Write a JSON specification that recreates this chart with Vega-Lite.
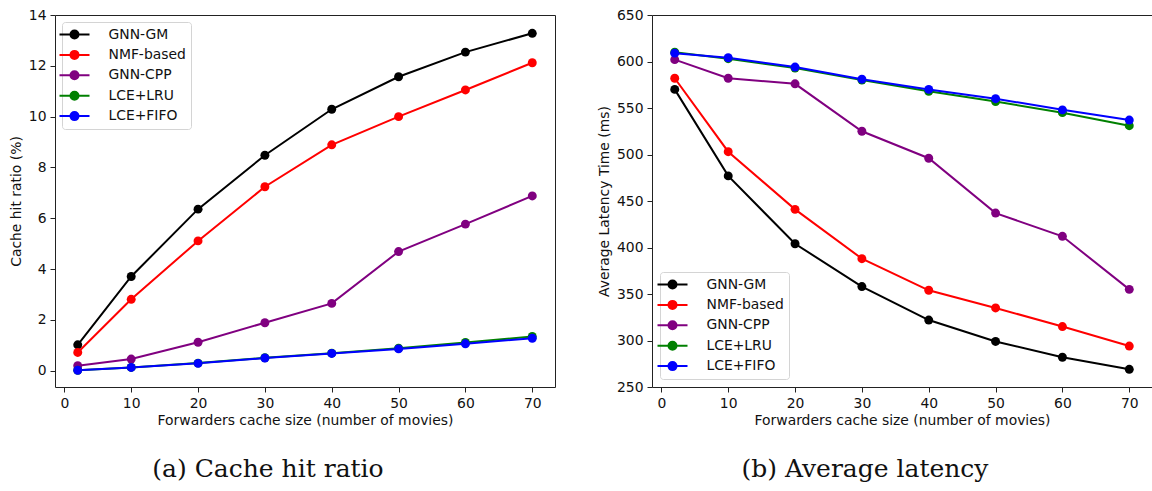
{
  "$schema": "https://vega.github.io/schema/vega-lite/v6.json",
  "background": "white",
  "padding": {"left": 8, "top": 7, "right": 0, "bottom": 0},
  "autosize": {"type": "pad"},
  "spacing": 97,
  "bounds": "flush",
  "config": {
    "font": "DejaVu Sans",
    "view": {"stroke": "#222", "strokeWidth": 1},
    "axis": {
      "grid": false,
      "domain": false,
      "tickColor": "#222",
      "tickSize": 5,
      "tickWidth": 1,
      "labelColor": "#111",
      "labelFont": "DejaVu Sans",
      "labelFontSize": 13.9,
      "labelPadding": 4,
      "titleColor": "#111",
      "titleFont": "DejaVu Sans",
      "titleFontSize": 13.9,
      "titleFontWeight": "normal"
    },
    "axisX": {"titlePadding": 4},
    "axisY": {"titlePadding": 5},
    "legend": {
      "title": null,
      "offset": 7,
      "padding": 4.5,
      "rowPadding": 4.4,
      "fillColor": "white",
      "strokeColor": "#d4d4d4",
      "cornerRadius": 3,
      "symbolType": "M-2.143,0L2.143,0M0.571,0A0.571,0.571,0,1,1,-0.571,0A0.571,0.571,0,1,1,0.571,0",
      "symbolSize": 196,
      "symbolStrokeWidth": 2,
      "symbolOffset": 0,
      "labelOffset": 26,
      "labelFont": "DejaVu Sans",
      "labelFontSize": 13.9,
      "labelColor": "#111"
    },
    "title": {
      "font": "DejaVu Serif",
      "fontSize": 25,
      "fontWeight": "normal",
      "color": "#111",
      "orient": "bottom",
      "anchor": "middle",
      "frame": "group",
      "offset": 29
    }
  },
  "datasets": {
    "hit": [
      {"size": 2, "method": "GNN-GM", "value": 1.02},
      {"size": 10, "method": "GNN-GM", "value": 3.71},
      {"size": 20, "method": "GNN-GM", "value": 6.36},
      {"size": 30, "method": "GNN-GM", "value": 8.48},
      {"size": 40, "method": "GNN-GM", "value": 10.29},
      {"size": 50, "method": "GNN-GM", "value": 11.57},
      {"size": 60, "method": "GNN-GM", "value": 12.54},
      {"size": 70, "method": "GNN-GM", "value": 13.28},
      {"size": 2, "method": "NMF-based", "value": 0.72},
      {"size": 10, "method": "NMF-based", "value": 2.81},
      {"size": 20, "method": "NMF-based", "value": 5.11},
      {"size": 30, "method": "NMF-based", "value": 7.24},
      {"size": 40, "method": "NMF-based", "value": 8.89},
      {"size": 50, "method": "NMF-based", "value": 10.0},
      {"size": 60, "method": "NMF-based", "value": 11.05},
      {"size": 70, "method": "NMF-based", "value": 12.12},
      {"size": 2, "method": "GNN-CPP", "value": 0.2},
      {"size": 10, "method": "GNN-CPP", "value": 0.46},
      {"size": 20, "method": "GNN-CPP", "value": 1.12},
      {"size": 30, "method": "GNN-CPP", "value": 1.89},
      {"size": 40, "method": "GNN-CPP", "value": 2.65},
      {"size": 50, "method": "GNN-CPP", "value": 4.69},
      {"size": 60, "method": "GNN-CPP", "value": 5.77},
      {"size": 70, "method": "GNN-CPP", "value": 6.88},
      {"size": 2, "method": "LCE+LRU", "value": 0.02},
      {"size": 10, "method": "LCE+LRU", "value": 0.13},
      {"size": 20, "method": "LCE+LRU", "value": 0.3},
      {"size": 30, "method": "LCE+LRU", "value": 0.51},
      {"size": 40, "method": "LCE+LRU", "value": 0.69},
      {"size": 50, "method": "LCE+LRU", "value": 0.89},
      {"size": 60, "method": "LCE+LRU", "value": 1.11},
      {"size": 70, "method": "LCE+LRU", "value": 1.35},
      {"size": 2, "method": "LCE+FIFO", "value": 0.02},
      {"size": 10, "method": "LCE+FIFO", "value": 0.13},
      {"size": 20, "method": "LCE+FIFO", "value": 0.29},
      {"size": 30, "method": "LCE+FIFO", "value": 0.5},
      {"size": 40, "method": "LCE+FIFO", "value": 0.68},
      {"size": 50, "method": "LCE+FIFO", "value": 0.86},
      {"size": 60, "method": "LCE+FIFO", "value": 1.06},
      {"size": 70, "method": "LCE+FIFO", "value": 1.28}
    ],
    "latency": [
      {"size": 2, "method": "GNN-GM", "value": 570},
      {"size": 10, "method": "GNN-GM", "value": 477},
      {"size": 20, "method": "GNN-GM", "value": 404},
      {"size": 30, "method": "GNN-GM", "value": 358},
      {"size": 40, "method": "GNN-GM", "value": 322},
      {"size": 50, "method": "GNN-GM", "value": 299},
      {"size": 60, "method": "GNN-GM", "value": 282},
      {"size": 70, "method": "GNN-GM", "value": 269},
      {"size": 2, "method": "NMF-based", "value": 582},
      {"size": 10, "method": "NMF-based", "value": 503},
      {"size": 20, "method": "NMF-based", "value": 441},
      {"size": 30, "method": "NMF-based", "value": 388},
      {"size": 40, "method": "NMF-based", "value": 354},
      {"size": 50, "method": "NMF-based", "value": 335},
      {"size": 60, "method": "NMF-based", "value": 315},
      {"size": 70, "method": "NMF-based", "value": 294},
      {"size": 2, "method": "GNN-CPP", "value": 602},
      {"size": 10, "method": "GNN-CPP", "value": 582},
      {"size": 20, "method": "GNN-CPP", "value": 576},
      {"size": 30, "method": "GNN-CPP", "value": 525},
      {"size": 40, "method": "GNN-CPP", "value": 496},
      {"size": 50, "method": "GNN-CPP", "value": 437},
      {"size": 60, "method": "GNN-CPP", "value": 412},
      {"size": 70, "method": "GNN-CPP", "value": 355},
      {"size": 2, "method": "LCE+LRU", "value": 610},
      {"size": 10, "method": "LCE+LRU", "value": 603},
      {"size": 20, "method": "LCE+LRU", "value": 593},
      {"size": 30, "method": "LCE+LRU", "value": 580},
      {"size": 40, "method": "LCE+LRU", "value": 568},
      {"size": 50, "method": "LCE+LRU", "value": 557},
      {"size": 60, "method": "LCE+LRU", "value": 545},
      {"size": 70, "method": "LCE+LRU", "value": 531},
      {"size": 2, "method": "LCE+FIFO", "value": 609},
      {"size": 10, "method": "LCE+FIFO", "value": 604},
      {"size": 20, "method": "LCE+FIFO", "value": 594},
      {"size": 30, "method": "LCE+FIFO", "value": 581},
      {"size": 40, "method": "LCE+FIFO", "value": 570},
      {"size": 50, "method": "LCE+FIFO", "value": 560},
      {"size": 60, "method": "LCE+FIFO", "value": 548},
      {"size": 70, "method": "LCE+FIFO", "value": 537}
    ]
  },
  "hconcat": [
    {
      "title": {"text": "(a) Cache hit ratio", "dx": -37},
      "width": 500,
      "height": 372,
      "data": {"name": "hit"},
      "encoding": {
        "x": {
          "field": "size", "type": "quantitative",
          "scale": {"domain": [-1.4, 73.4], "nice": false, "zero": false},
          "axis": {"title": "Forwarders cache size (number of movies)", "values": [0, 10, 20, 30, 40, 50, 60, 70]}
        },
        "y": {
          "field": "value", "type": "quantitative",
          "scale": {"domain": [-0.64, 14], "nice": false, "zero": false},
          "axis": {"title": "Cache hit ratio (%)", "values": [0, 2, 4, 6, 8, 10, 12, 14]}
        },
        "color": {
          "field": "method", "type": "nominal",
          "scale": {
            "domain": ["GNN-GM", "NMF-based", "GNN-CPP", "LCE+LRU", "LCE+FIFO"],
            "range": ["#000000", "#ff0000", "#800080", "#008000", "#0000ff"]
          },
          "legend": {"orient": "top-left"}
        }
      },
      "layer": [
        {"mark": {"type": "line", "strokeWidth": 2}},
        {"mark": {"type": "point", "shape": "circle", "filled": true, "size": 80, "opacity": 1}}
      ]
    },
    {
      "title": {"text": "(b) Average latency", "dx": -37},
      "width": 500,
      "height": 372,
      "data": {"name": "latency"},
      "encoding": {
        "x": {
          "field": "size", "type": "quantitative",
          "scale": {"domain": [-1.4, 73.4], "nice": false, "zero": false},
          "axis": {"title": "Forwarders cache size (number of movies)", "values": [0, 10, 20, 30, 40, 50, 60, 70]}
        },
        "y": {
          "field": "value", "type": "quantitative",
          "scale": {"domain": [250, 650], "nice": false, "zero": false},
          "axis": {"title": "Average Latency Time (ms)", "values": [250, 300, 350, 400, 450, 500, 550, 600, 650]}
        },
        "color": {
          "field": "method", "type": "nominal",
          "scale": {
            "domain": ["GNN-GM", "NMF-based", "GNN-CPP", "LCE+LRU", "LCE+FIFO"],
            "range": ["#000000", "#ff0000", "#800080", "#008000", "#0000ff"]
          },
          "legend": {"orient": "bottom-left", "offset": 8}
        }
      },
      "layer": [
        {"mark": {"type": "line", "strokeWidth": 2}},
        {"mark": {"type": "point", "shape": "circle", "filled": true, "size": 80, "opacity": 1}}
      ]
    }
  ],
  "resolve": {"scale": {"color": "independent"}, "legend": {"color": "independent"}}
}
